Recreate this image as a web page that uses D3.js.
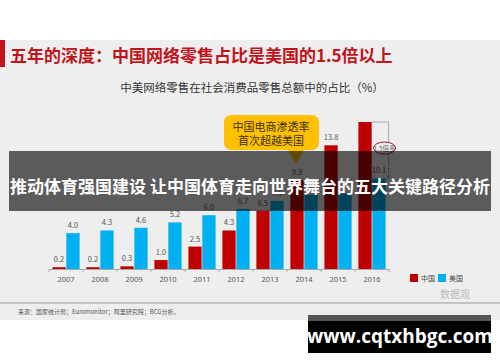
<!DOCTYPE html>
<html>
<head>
<meta charset="utf-8">
<script src="https://cdn.jsdelivr.net/npm/d3@7"></script>
<style>
  html, body { margin: 0; padding: 0; background: #fff; }
  svg { display: block; font-family: "Noto Sans CJK SC", "Noto Sans", sans-serif; }
</style>
</head>
<body>
<div id="chart"></div>
<script>
// chart data
const years = ['2007', '2008', '2009', '2010', '2011', '2012', '2013', '2014', '2015', '2016'];
const chinaShare = [0.2, 0.2, 0.3, 1.0, 2.5, 4.3, 6.5, 9.9, 13.8, 16.4];
const usShare = [4.0, 4.3, 4.6, 5.2, 6.0, 6.7, 7.6, 8.3, 8.4, 10.1];
const seriesNames = ['中国', '美国'];
const seriesColors = ['#c00000', '#00b0f0'];
// labels the slide hides (covered by the banner or not printed)
const hiddenLabels = ['0-2016', '1-2014', '1-2015'];

const width = 500, height = 362;
const svg = d3.select('#chart').append('svg')
    .attr('width', width)
    .attr('height', height);

// slide background
svg.append('rect').attr('x', 0).attr('y', 40).attr('width', width).attr('height', 280).attr('fill', '#eeeeee');
svg.append('rect').attr('x', 0).attr('y', 40).attr('width', 5).attr('height', 27).attr('fill', '#c0141b');

svg.append('text')
    .attr('x', 10).attr('y', 62)
    .attr('font-size', 17).attr('font-weight', 'bold')
    .attr('fill', '#c0141b')
    .text('五年的深度：中国网络零售占比是美国的1.5倍以上');

svg.append('text')
    .attr('x', 252).attr('y', 92)
    .attr('text-anchor', 'middle')
    .attr('font-size', 11.5).attr('fill', '#333')
    .text('中美网络零售在社会消费品零售总额中的占比（%）');

// scales
const x = d3.scaleBand().domain(years).range([49, 389]).paddingInner(0.2).paddingOuter(0.1);
const xSub = d3.scaleBand().domain([0, 1]).range([0, x.bandwidth()]).paddingInner(0.05);
const y = d3.scaleLinear().domain([0, 16.4]).range([269, 122]);

const rows = years.map((yr, i) => ({ year: yr, values: [chinaShare[i], usShare[i]] }));

const groups = svg.selectAll('.grp')
    .data(rows)
    .enter()
    .append('g')
    .attr('class', 'grp')
    .attr('transform', d => `translate(${x(d.year)},0)`);

groups.selectAll('rect')
    .data(d => d.values.map((v, k) => ({ v, k })))
    .enter()
    .append('rect')
    .attr('x', d => xSub(d.k))
    .attr('y', d => y(d.v))
    .attr('width', xSub.bandwidth())
    .attr('height', d => y(0) - y(d.v))
    .attr('fill', d => seriesColors[d.k]);

groups.selectAll('.val')
    .data(d => d.values.map((v, k) => ({ v, k, key: k + '-' + d.year })))
    .enter()
    .filter(d => !hiddenLabels.includes(d.key))
    .append('text')
    .attr('class', 'val')
    .attr('x', d => xSub(d.k) + xSub.bandwidth() / 2)
    .attr('y', d => y(d.v) - 5)
    .attr('text-anchor', 'middle')
    .attr('font-size', 7.5)
    .attr('fill', '#555')
    .text(d => d.v.toFixed(1));

// x axis
const xAxis = svg.append('g')
    .attr('transform', `translate(0,${y(0)})`)
    .call(d3.axisBottom(x).tickSize(0).tickPadding(8));
xAxis.select('.domain').attr('stroke', '#aaa');
xAxis.selectAll('text').attr('font-size', 7.5).attr('fill', '#555')
    .attr('font-family', '"Noto Sans", sans-serif');
svg.append('g').selectAll('line')
    .data(years.concat(['end']))
    .enter()
    .append('line')
    .attr('x1', (d, i) => 49 + i * x.step())
    .attr('x2', (d, i) => 49 + i * x.step())
    .attr('y1', y(0)).attr('y2', y(0) + 3)
    .attr('stroke', '#aaa');

// "1.5倍多" bracket at 2016
const lastX = x('2016');
const bx = lastX + x.bandwidth() + 3;
svg.append('path')
    .attr('d', `M${lastX + xSub.bandwidth()},${y(chinaShare[9])} H${bx} V${y(usShare[9])}`)
    .attr('fill', 'none').attr('stroke', '#999').attr('stroke-width', 0.8);
svg.append('path')
    .attr('d', `M${bx - 2},${y(usShare[9]) - 3} L${bx},${y(usShare[9])} L${bx + 2},${y(usShare[9]) - 3}`)
    .attr('fill', 'none').attr('stroke', '#999').attr('stroke-width', 0.8);
svg.append('ellipse')
    .attr('cx', bx - 4).attr('cy', 148).attr('rx', 11).attr('ry', 6)
    .attr('fill', '#eeeeee').attr('stroke', '#a01c2c').attr('stroke-width', 1);
svg.append('text')
    .attr('x', bx - 4).attr('y', 150.5)
    .attr('text-anchor', 'middle').attr('font-size', 6.5).attr('fill', '#666')
    .text('1.5倍多');

// yellow callout
const callout = svg.append('g');
callout.append('path')
    .attr('d', 'M232,115 H311 Q319,115 319,123 V142 Q319,150 311,150 H304 L296,164 L288,150 H232 Q224,150 224,142 V123 Q224,115 232,115 Z')
    .attr('fill', '#ffc000');
callout.append('text')
    .attr('x', 271).attr('y', 131)
    .attr('text-anchor', 'middle').attr('font-size', 11).attr('fill', '#3d300c')
    .text('中国电商渗透率');
callout.append('text')
    .attr('x', 271).attr('y', 145)
    .attr('text-anchor', 'middle').attr('font-size', 11).attr('fill', '#3d300c')
    .text('首次超越美国');

// legend
const legend = svg.append('g').attr('transform', 'translate(410,274)');
seriesNames.forEach((name, i) => {
    const g = legend.append('g').attr('transform', `translate(${i * 28},0)`);
    g.append('rect').attr('width', 8).attr('height', 8).attr('fill', seriesColors[i]);
    g.append('text').attr('x', 11).attr('y', 7).attr('font-size', 7).attr('fill', '#444').text(name);
});

// footer
svg.append('line').attr('x1', 0).attr('x2', 500).attr('y1', 303).attr('y2', 303)
    .attr('stroke', '#b5b5b5').attr('stroke-width', 1.5);
svg.append('text')
    .attr('x', 18).attr('y', 314)
    .attr('font-size', 6).attr('fill', '#555')
    .text('来源：国家统计局；Euromonitor；阿里研究院；BCG分析。');
svg.append('text')
    .attr('x', 455).attr('y', 298)
    .attr('text-anchor', 'middle')
    .attr('font-size', 10).attr('fill', '#bbb')
    .text('数据观');

// banner overlay
svg.append('rect')
    .attr('x', 9).attr('y', 151).attr('width', 482).attr('height', 60)
    .attr('fill', 'rgba(0,0,0,0.62)');
svg.append('text')
    .attr('x', 250).attr('y', 193)
    .attr('text-anchor', 'middle')
    .attr('font-size', 17).attr('font-weight', 'bold')
    .attr('fill', '#fff')
    .text('推动体育强国建设 让中国体育走向世界舞台的五大关键路径分析');

// site stamp
svg.append('rect').attr('x', 308).attr('y', 315).attr('width', 183).attr('height', 6).attr('fill', '#555');
svg.append('rect').attr('x', 308).attr('y', 321).attr('width', 183).attr('height', 32).attr('fill', '#000');
svg.append('text')
    .attr('x', 400).attr('y', 343)
    .attr('text-anchor', 'middle')
    .attr('font-size', 19).attr('font-weight', 'bold')
    .attr('font-family', '"Open Sans", sans-serif')
    .attr('fill', '#fff')
    .text('www.cqtxhbgc.com');
</script>
</body>
</html>
